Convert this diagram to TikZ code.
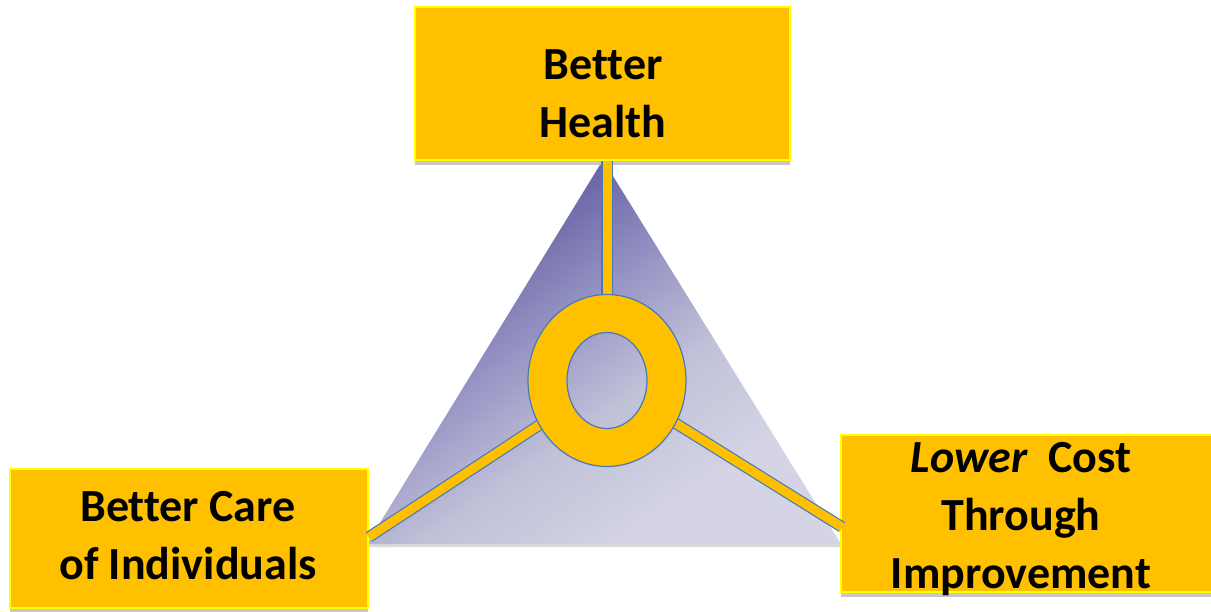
\documentclass[tikz,border=0pt]{standalone}
\usepackage{fontspec}
\setmainfont{Carlito}[Ligatures=NoCommon]
\usetikzlibrary{shapes.geometric,shadows}
\definecolor{gold}{RGB}{255,192,0}
\definecolor{goalrim}{RGB}{255,255,0}
\definecolor{spokeblue}{RGB}{70,120,190}
\definecolor{triadark}{RGB}{100,94,162}
\definecolor{triadim}{RGB}{150,148,196}
\definecolor{triamid}{RGB}{192,192,216}
\definecolor{trialight}{RGB}{212,212,229}
\pgfdeclareverticalshading{triashade}{100bp}{color(0bp)=(trialight); color(30bp)=(trialight);
  color(44bp)=(triamid); color(56bp)=(triadim); color(70bp)=(triadark); color(100bp)=(triadark)}
\begin{document}
\begin{tikzpicture}[x=1pt,y=-1pt,
    goalbox/.style={rectangle, fill=gold, draw=goalrim, line width=1.5pt, inner sep=0pt,
      drop shadow={shadow xshift=0pt, shadow yshift=-5pt, fill=black!22, opacity=1}},
    goaltext/.style={align=center, inner sep=0pt, font=\fontsize{46}{58}\selectfont\bfseries},
    spoke/.style={draw=spokeblue, line width=1.2pt, double=gold, double distance=9pt}]
      \useasboundingbox (0,0) rectangle (1211,611);
      % triangle behind everything
      \coordinate (apex) at (603,160);
      \coordinate (cornerL) at (367,544);
      \coordinate (cornerR) at (841,544);
      \shade[shading=triashade, shading angle=35,
        drop shadow={shadow xshift=0pt, shadow yshift=-3pt, fill=black!15, opacity=1}]
        (apex) -- (cornerR) -- (cornerL) -- cycle;
      \coordinate (spokeL) at (369,537);
      \coordinate (spokeR) at (842,527);
      \node[ellipse, minimum width=158pt, minimum height=172pt, inner sep=0pt] (ring) at (607,380.5) {};
      % boxes
      \node[goalbox, minimum width=375pt, minimum height=153pt] (health) at (602.5,83.5) {};
      \node[goalbox, minimum width=358pt, minimum height=139pt] (care) at (189,538.5) {};
      \node[goalbox, minimum width=374pt, minimum height=157pt] (cost) at (1028,513.5) {};
      \node[goaltext] (healthtxt) at (603,93.5) {Better\\Health};
      \node[goaltext] (caretxt) at (188,536) {Better Care\\of Individuals};
      \node[goaltext] (costtxt) at (1021,519) {\textit{Lower}~ Cost\\Through\\Improvement};
      % spokes and ring
      \draw[spoke, shorten <=-6pt] (ring.north) -- (ring.north |- health.south);
      \draw[spoke, shorten <=-6pt] (ring) -- (spokeL);
      \draw[spoke, shorten <=-6pt] (ring) -- (spokeR);
      \filldraw[fill=gold, draw=spokeblue, line width=1.2pt, even odd rule]
        (ring.center) ellipse [x radius=79, y radius=86]
        (ring.center) ellipse [x radius=40, y radius=48];
\end{tikzpicture}
\end{document}
